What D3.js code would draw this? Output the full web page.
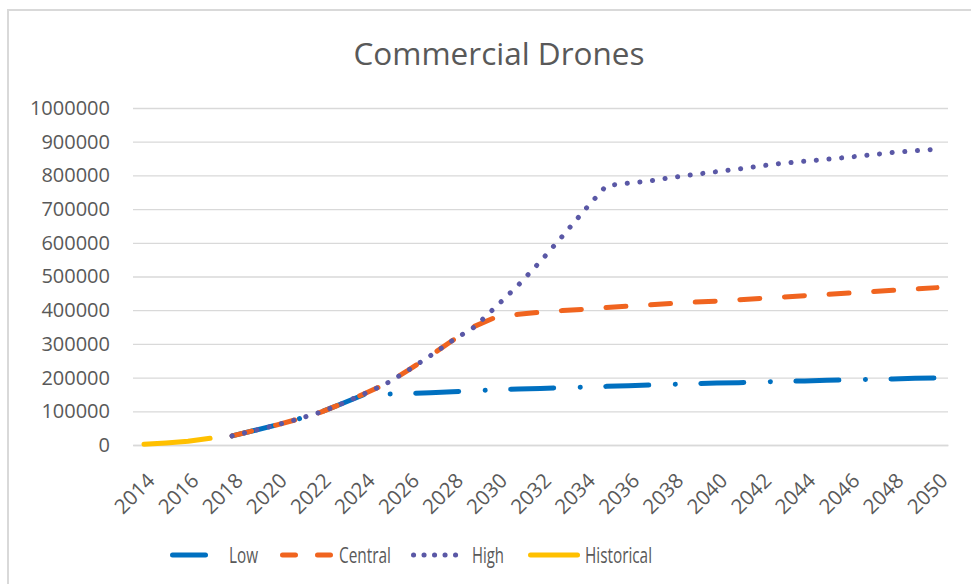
<!DOCTYPE html>
<html><head><meta charset="utf-8">
<script src="https://cdn.jsdelivr.net/npm/d3@7"></script>
<style>body{margin:0;background:#fff}svg{display:block}</style>
</head><body>
<svg id="c" width="971" height="584"></svg>
<script>
const years = [2014,2015,2016,2017,2018,2019,2020,2021,2022,2023,2024,2025,2026,2027,2028,2029,2030,2031,2032,2033,2034,2035,2036,2037,2038,2039,2040,2041,2042,2043,2044,2045,2046,2047,2048,2049,2050];
const historical = [2000,6000,11000,20000];               // 2014-2017
const low = [27000,43000,59000,77000,97000,123000,150000,151000,153000,155000,158000,161000,164000,166000,168000,170000,172000,174000,176000,178000,180000,182000,184000,185000,187000,189000,190000,192000,193000,195000,196000,198000,199000]; // 2018-2050
const central = [27000,43000,59000,77000,97000,123000,152000,182000,222000,265000,310000,352000,380000,388000,394000,399000,403000,408000,412000,416000,420000,424000,427000,431000,435000,439000,443000,447000,451000,455000,459000,463000,467000];
const high = [27000,43000,59000,77000,97000,123000,152000,182000,222000,265000,310000,350000,412000,475000,545000,620000,697000,770000,777000,784000,794000,803000,811000,819000,828000,836000,842000,848000,854000,861000,868000,873000,878000];
const yTicks = [0,100000,200000,300000,400000,500000,600000,700000,800000,900000,1000000];
const xLabels = years.filter(y => y % 2 === 0);

const svg = d3.select("#c");
const x = d3.scaleBand().domain(years).range([133, 948]);
const cx = yr => x(yr) + x.bandwidth()/2;
const y = d3.scaleLinear().domain([0,1000000]).range([445,108]);
const txt = "#595959", grid = "#d9d9d9";

// chart border (top/left visible)
svg.append("rect").attr("x",8).attr("y",10).attr("width",1000).attr("height",1000)
  .attr("fill","none").attr("stroke","#d9d9d9").attr("stroke-width",2);

svg.append("text").attr("x",499).attr("y",65).attr("text-anchor","middle")
  .attr("font-family","'Open Sans', sans-serif").attr("font-size",31.5).attr("fill",txt)
  .text("Commercial Drones");

// gridlines
const yAxis = d3.axisLeft(y).tickValues(yTicks).tickSize(-(948-133)).tickFormat(d3.format("d"));
const gy = svg.append("g").attr("transform","translate(133,0)").call(yAxis);
gy.select(".domain").remove();
gy.selectAll(".tick line").attr("stroke",grid).attr("stroke-width",1.3);
gy.selectAll(".tick text").attr("x",-23).attr("fill",txt)
  .attr("font-family","'Open Sans', sans-serif").attr("font-size",20);

// x axis
const xAxis = d3.axisBottom(x).tickValues(xLabels).tickSize(0);
const gx = svg.append("g").attr("transform","translate(0,445)").call(xAxis);
gx.select(".domain").attr("stroke",grid).attr("stroke-width",1.3);
gx.selectAll(".tick text").attr("fill",txt)
  .attr("font-family","'Open Sans', sans-serif").attr("font-size",20.5)
  .attr("text-anchor","end").attr("y",0).attr("dy","0.35em")
  .attr("transform","translate(7,32) rotate(-45)");

const line = d3.line().x(d => cx(d.yr)).y(d => y(d.v));
const mk = (arr, start) => arr.map((v,i) => ({yr: start+i, v}));
const series = [
  {name:"Low", data: mk(low,2018), color:"#0070c0", dash:"43 26.5 0.1 25.5"},
  {name:"Central", data: mk(central,2018), color:"#f0641f", dash:"20 24.7"},
  {name:"High", data: mk(high,2018), color:"#5a58a6", dash:"0.1 12.6"},
  {name:"Historical", data: mk(historical,2014), color:"#ffc000", dash:null}
];
series.forEach(s => {
  svg.append("path").datum(s.data).attr("d",line).attr("fill","none")
    .attr("stroke",s.color).attr("stroke-width",5).attr("stroke-linecap","round")
    .attr("stroke-linejoin","round").attr("stroke-dasharray",s.dash);
});

// legend
const leg = [
  {name:"Low", color:"#0070c0", x1:172.5, x2:205.5, tx:229, w:29, dash:null},
  {name:"Central", color:"#f0641f", x1:282.5, x2:330.5, tx:339, w:52, dash:"13 22"},
  {name:"High", color:"#5a58a6", x1:413.5, x2:465.5, tx:472, w:32, dash:"0.1 10.4"},
  {name:"Historical", color:"#ffc000", x1:530.5, x2:577.5, tx:585, w:67, dash:null}
];
leg.forEach(l => {
  svg.append("line").attr("x1",l.x1).attr("x2",l.x2).attr("y1",555).attr("y2",555)
    .attr("stroke",l.color).attr("stroke-width",5).attr("stroke-linecap","round")
    .attr("stroke-dasharray",l.dash);
  svg.append("text").attr("x",l.tx).attr("y",562.5).attr("fill",txt)
    .attr("font-family","'Open Sans', sans-serif").attr("font-size",22)
    .attr("textLength",l.w).attr("lengthAdjust","spacingAndGlyphs")
    .text(l.name);
});
</script>
</body></html>
